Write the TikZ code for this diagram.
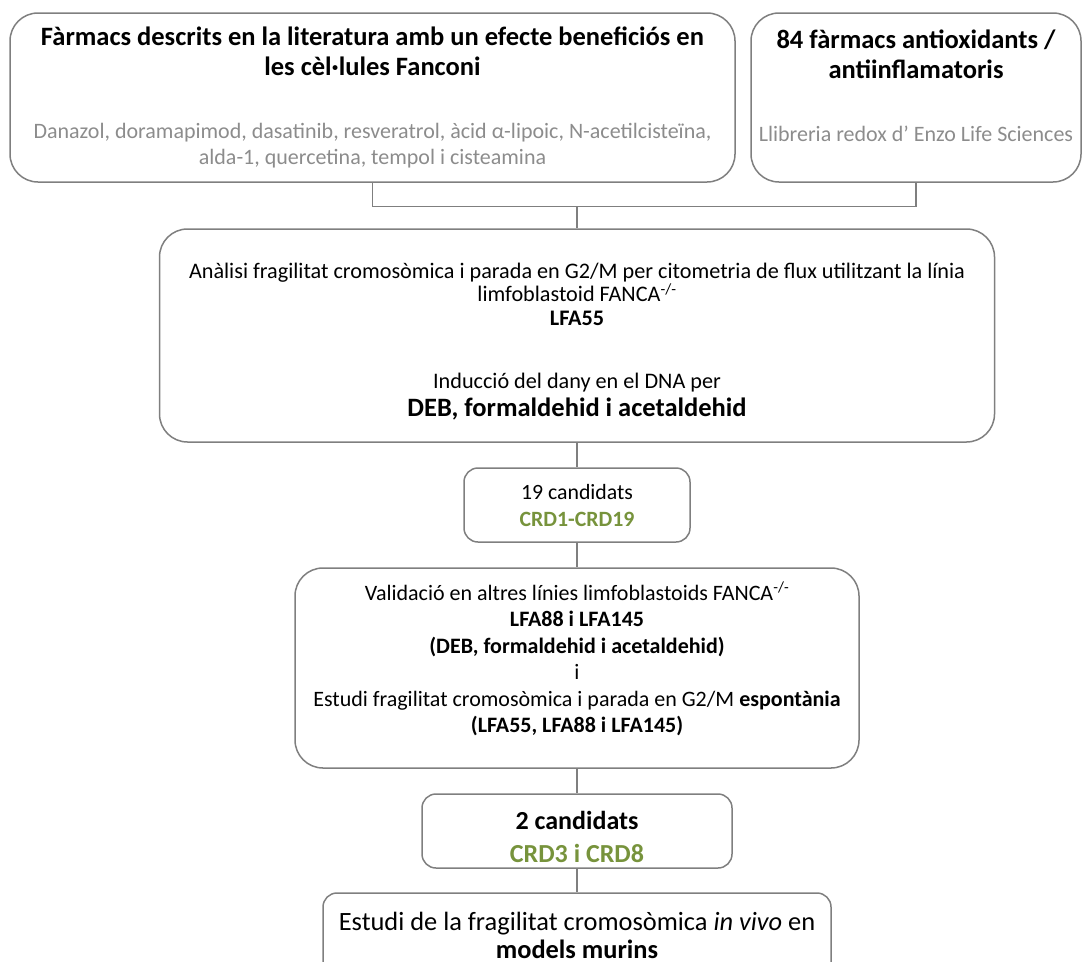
\documentclass[tikz,border=0pt]{standalone}
\usepackage{fontspec}
\setmainfont{Carlito}
\definecolor{vora}{HTML}{7F7F7F}
\definecolor{textgris}{HTML}{8C8C8C}
\definecolor{crdverd}{HTML}{77933C}
\newcommand{\titol}{\fontsize{26.5}{30}\selectfont\bfseries}
\newcommand{\grisos}{\fontsize{22}{25}\selectfont\mdseries\color{textgris}}
\newcommand{\normal}{\fontsize{22.2}{23.5}\selectfont\mdseries}
\newcommand{\gran}{\fontsize{26.5}{27}\selectfont\bfseries}
\begin{document}
\begin{tikzpicture}[x=1pt,y=-1pt,
    caixa/.style={draw=vora, line width=1.5pt, rounded corners=28pt, align=center, inner sep=0pt},
    caixeta/.style={caixa, rounded corners=14pt},
    linia/.style={draw=vora, line width=1.5pt}]
  \useasboundingbox (0,0) rectangle (1083,961);

  % fonts dels farmacs
  \node[caixa, font=\titol, minimum width=725pt, minimum height=169pt] (farmacs) at (372.5,97.5)
    {Fàrmacs descrits en la literatura amb un efecte beneficiós en\\
     les cèl·lules Fanconi\\[33pt]
     \grisos Danazol, doramapimod, dasatinib, resveratrol, àcid α-lipoic, N-acetilcisteïna,\\[-4pt]
     \grisos alda-1, quercetina, tempol i cisteamina};
  \node[caixa, font=\titol, minimum width=330pt, minimum height=169pt] (antiox) at (916,97.5)
    {84 fàrmacs antioxidants /\\
     antiinflamatoris\\[33pt]
     \grisos Llibreria redox d’ Enzo Life Sciences\\[-14pt]
     \grisos\strut};

  % cribratge
  \node[caixa, font=\normal, minimum width=835pt, minimum height=213pt] (analisi) at (577,335.5)
    {\rule{0pt}{27pt}Anàlisi fragilitat cromosòmica i parada en G2/M per citometria de flux utilitzant la línia\\
     limfoblastoid FANCA\textsuperscript{-/-}\\
     \bfseries LFA55\\[40pt]
     Inducció del dany en el DNA per\\[4pt]
     \gran DEB, formaldehid i acetaldehid};
  \node[caixeta, font=\fontsize{21.8}{27}\selectfont, minimum width=226pt, minimum height=74pt] (cand19) at (577,505)
    {19 candidats\\
     \bfseries\color{crdverd}CRD1-CRD19};
  \node[caixa, font=\fontsize{22}{26.5}\selectfont, minimum width=564pt, minimum height=200pt] (valid) at (577,668)
    {Validació en altres línies limfoblastoids FANCA\textsuperscript{-/-}\\
     \bfseries LFA88 i LFA145\\
     \bfseries (DEB, formaldehid i acetaldehid)\\
     i\\
     Estudi fragilitat cromosòmica i parada en G2/M \textbf{espontània}\\
     \bfseries (LFA55, LFA88 i LFA145)\\[-5pt]
     \mbox{}};
  \node[caixeta, font=\fontsize{26}{33}\selectfont\bfseries, minimum width=310pt, minimum height=74pt] (cand2) at (577,831)
    {\rule{0pt}{30pt}2 candidats\\
     \color{crdverd}CRD3 i CRD8};
  \node[caixeta, font=\fontsize{26.4}{28}\selectfont, minimum width=508pt, minimum height=84pt] (vivo) at (577,935)
    {Estudi de la fragilitat cromosòmica \textit{in vivo} en\\
     \bfseries models murins};

  \coordinate (junta) at ([yshift=22pt]analisi.north);
  \draw[linia] (farmacs.south) |- (junta) -| (antiox.south);
  \draw[linia] (junta) -- (analisi.north);
  \draw[linia] (analisi.south) -- (cand19.north);
  \draw[linia] (cand19.south) -- (valid.north);
  \draw[linia] (valid.south) -- (cand2.north);
  \draw[linia] (cand2.south) -- (vivo.north);
\end{tikzpicture}
\end{document}
